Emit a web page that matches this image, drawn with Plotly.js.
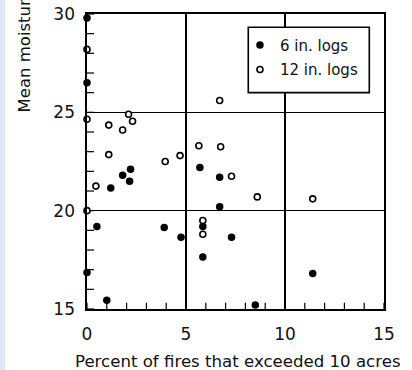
<!DOCTYPE html>
<html>
<head>
<meta charset="utf-8">
<script src="https://cdn.plot.ly/plotly-3.0.1.min.js"></script>
<style>
  html, body { margin: 0; padding: 0; background: #ffffff; }
  #strip { position: absolute; left: 0; top: 0; width: 5px; height: 370px; background: #dfe7f5; z-index: 5; }
  #chart { position: absolute; left: 0; top: 0; width: 412px; height: 370px; }
</style>
</head>
<body>
<div id="chart"></div>
<div id="strip"></div>
<script>
// 6 in. logs (filled dots)
const logs6X = [0, 0, 2.2, 1.8, 2.15, 1.2, 0.5, 3.9, 4.75, 5.85, 5.85, 0, 1.0, 5.7, 6.7, 6.7, 7.3, 11.4, 8.5];
const logs6Y = [29.8, 26.5, 22.1, 21.8, 21.5, 21.15, 19.2, 19.15, 18.65, 19.2, 17.65, 16.85, 15.45, 22.2, 21.7, 20.2, 18.65, 16.8, 15.2];
// 12 in. logs (open circles)
const logs12X = [0, 0, 2.1, 2.3, 1.1, 1.8, 1.1, 3.95, 4.7, 0.45, 0, 6.7, 5.65, 6.75, 7.3, 8.6, 11.4, 5.85, 5.85];
const logs12Y = [28.2, 24.65, 24.9, 24.55, 24.35, 24.1, 22.85, 22.5, 22.8, 21.25, 20.0, 25.6, 23.3, 23.25, 21.75, 20.7, 20.6, 19.5, 18.8];

const seriesNames = ['6 in. logs', '12 in. logs'];
const xTicks = [0, 5, 10, 15];
const yTicks = [15, 20, 25, 30];
const xTitle = 'Percent of fires that exceeded 10 acres';
const yTitle = 'Mean moisture content (percent)';

const FONT = 'DejaVu Sans, sans-serif';
const INK = '#111111';

const xMin = xTicks[0], xMax = xTicks[xTicks.length - 1];
const yMin = yTicks[0], yMax = yTicks[yTicks.length - 1];
// unit steps for the small tick marks along the axes
const xSmall = Array.from({ length: xMax - xMin + 1 }, (_, i) => xMin + i);
const ySmall = Array.from({ length: yMax - yMin + 1 }, (_, i) => yMin + i);

const traces = [
  // small tick marks (half of each marker is clipped by the plot edge)
  { x: xSmall, y: xSmall.map(() => yMin), type: 'scatter', mode: 'markers', cliponaxis: true,
    marker: { symbol: 'line-ns', size: 9, color: '#000000', line: { width: 1.2, color: '#000000' } },
    showlegend: false, hoverinfo: 'skip' },
  { x: ySmall.map(() => xMin), y: ySmall, type: 'scatter', mode: 'markers', cliponaxis: true,
    marker: { symbol: 'line-ew', size: 10, color: '#000000', line: { width: 1.2, color: '#000000' } },
    showlegend: false, hoverinfo: 'skip' },
  {
    x: logs6X, y: logs6Y, name: seriesNames[0], type: 'scatter', mode: 'markers',
    cliponaxis: false, legendgroup: 'g6',
    marker: { symbol: 'circle', size: 7.5, color: '#000000', line: { width: 0 } }
  },
  {
    x: logs12X, y: logs12Y, name: seriesNames[1], type: 'scatter', mode: 'markers',
    cliponaxis: false, legendgroup: 'g12',
    marker: { symbol: 'circle', size: 6, color: '#ffffff', line: { width: 1.6, color: '#000000' } }
  }
];

const mainAxis = {
  showline: true, linecolor: '#000000', linewidth: 1.6, mirror: true,
  showgrid: true, gridcolor: '#000000', gridwidth: 1.4,
  zeroline: false, ticks: '', tickmode: 'array',
  tickfont: { family: FONT, size: 17, color: INK }
};

const layout = {
  width: 412, height: 370,
  margin: { l: 87, r: 28, t: 14, b: 61, pad: 0 },
  paper_bgcolor: '#ffffff', plot_bgcolor: '#ffffff',
  showlegend: true,
  legend: {
    x: 0.515, y: 0.95, xanchor: 'left', yanchor: 'top',
    bgcolor: 'rgba(0,0,0,0)', borderwidth: 0,
    font: { family: FONT, size: 15, color: INK },
    itemwidth: 30, tracegroupgap: 2
  },
  xaxis: Object.assign({}, mainAxis, {
    range: [xMin, xMax], tickvals: xTicks, ticktext: xTicks.map(String), ticklabelstandoff: 9
  }),
  yaxis: Object.assign({}, mainAxis, {
    range: [yMin, yMax], tickvals: yTicks, ticktext: yTicks.map(String), ticklabelstandoff: 7
  }),
  shapes: [{
    type: 'rect', xref: 'paper', yref: 'paper', layer: 'above',
    x0: 0.543, x1: 0.9505, y0: 0.7335, y1: 0.955,
    fillcolor: '#ffffff', line: { color: '#000000', width: 1.6 }
  }],
  annotations: [
    {
      text: yTitle, xref: 'paper', yref: 'paper', textangle: -90,
      x: -0.21, y: 0.66, xanchor: 'center', yanchor: 'bottom', showarrow: false,
      font: { family: FONT, size: 16.5, color: INK }
    },
    {
      text: xTitle, xref: 'paper', yref: 'paper',
      x: 0.507, y: -0.1775, xanchor: 'center', yanchor: 'middle', showarrow: false,
      font: { family: FONT, size: 16.6, color: INK }
    }
  ]
};

Plotly.newPlot('chart', traces, layout, { displayModeBar: false, staticPlot: true });
</script>
</body>
</html>
